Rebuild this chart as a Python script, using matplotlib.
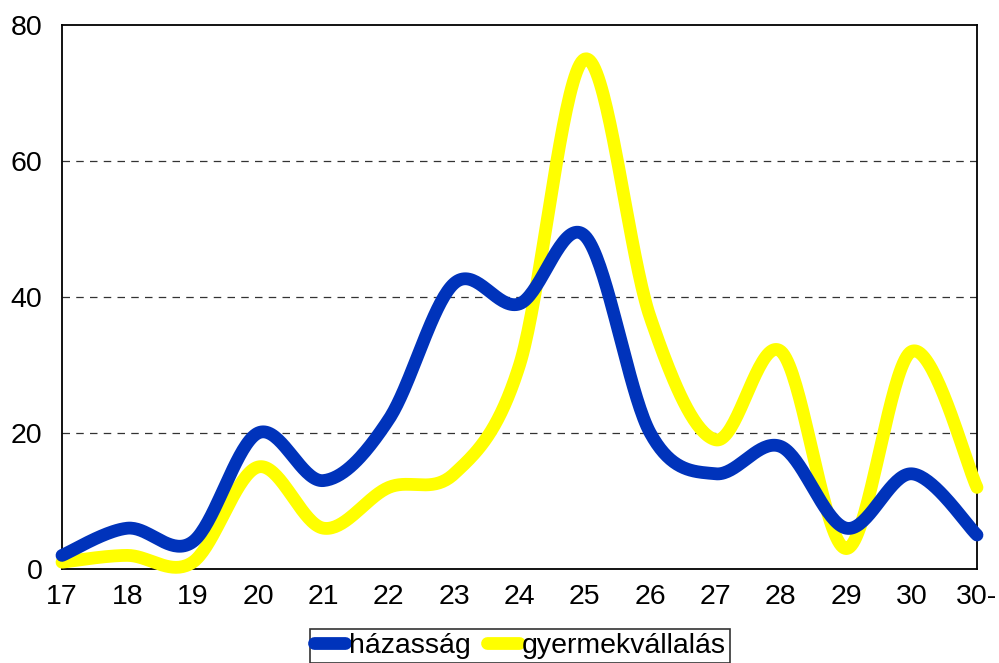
import numpy as np
import matplotlib
matplotlib.use("Agg")
import matplotlib.pyplot as plt
from matplotlib.lines import Line2D

categories = ["17", "18", "19", "20", "21", "22", "23", "24", "25", "26", "27", "28", "29", "30", "30-"]
hazassag = [2, 6, 4, 20, 13, 22, 42, 39, 49, 20, 14, 18, 6, 14, 5]
gyermek = [1, 2, 1, 15, 6, 12, 14, 30, 75, 37, 19, 32, 3, 32, 12]
yticks = [0, 20, 40, 60, 80]

plt.rcParams['font.family'] = ['Liberation Sans', 'DejaVu Sans']

def smooth(xs, ys, n=40):
    xs = np.asarray(xs, float); ys = np.asarray(ys, float)
    P = np.column_stack([xs, ys])
    m = len(P)
    out = []
    for i in range(m - 1):
        p0 = P[i - 1] if i > 0 else P[i]
        p1 = P[i]; p2 = P[i + 1]
        p3 = P[i + 2] if i + 2 < m else P[i + 1]
        c1 = p1 + (p2 - p0) / 6.0
        c2 = p2 - (p3 - p1) / 6.0
        t = np.linspace(0, 1, n)[:, None]
        seg = (1 - t) ** 3 * p1 + 3 * (1 - t) ** 2 * t * c1 + 3 * (1 - t) * t ** 2 * c2 + t ** 3 * p2
        if i > 0:
            seg = seg[1:]
        out.append(seg)
    a = np.vstack(out)
    return a[:, 0], a[:, 1]

fig = plt.figure(figsize=(9.99, 6.63), dpi=100)
ax = fig.add_axes([62 / 999, 1 - 569 / 663, (977 - 62) / 999, (569 - 25) / 663])

x = np.arange(len(categories))
blue = "#0033BB"
yellow = "#FFFF00"
lw = 9.2
xg, yg = smooth(x, gyermek)
ax.plot(xg, yg, color=yellow, lw=lw, solid_capstyle='round', solid_joinstyle='round', clip_on=False, zorder=3)
xh, yh = smooth(x, hazassag)
ax.plot(xh, yh, color=blue, lw=lw, solid_capstyle='round', solid_joinstyle='round', clip_on=False, zorder=4)

fs = 20.5
ax.set_xlim(0, len(categories) - 1)
ax.set_ylim(0, 80)
ax.set_yticks(yticks)
ax.set_xticks(x)
ax.set_xticklabels(categories)
ax.tick_params(axis='both', length=0, labelsize=fs)
ax.tick_params(axis='y', pad=14)
ax.tick_params(axis='x', pad=11)
for yv in yticks[1:-1]:
    ax.axhline(yv, color='#333333', lw=0.9, ls=(0, (6, 5)), zorder=1)
for s in ax.spines.values():
    s.set_color('black')
    s.set_linewidth(1.3)

handles = [Line2D([], [], color=blue, lw=lw, solid_capstyle='round'),
           Line2D([], [], color=yellow, lw=lw, solid_capstyle='round')]
leg = fig.legend(handles, ["házasság", "gyermekvállalás"], loc='center',
                 bbox_to_anchor=(520 / 999, 1 - 646 / 663), bbox_transform=fig.transFigure,
                 ncol=2, fontsize=fs, handlelength=1.1, handletextpad=0.12, columnspacing=0.6,
                 frameon=True, fancybox=False, borderpad=0.15, borderaxespad=0)
leg.get_frame().set_edgecolor('black')
leg.get_frame().set_linewidth(1.2)

fig.savefig("out.png", dpi=100)
